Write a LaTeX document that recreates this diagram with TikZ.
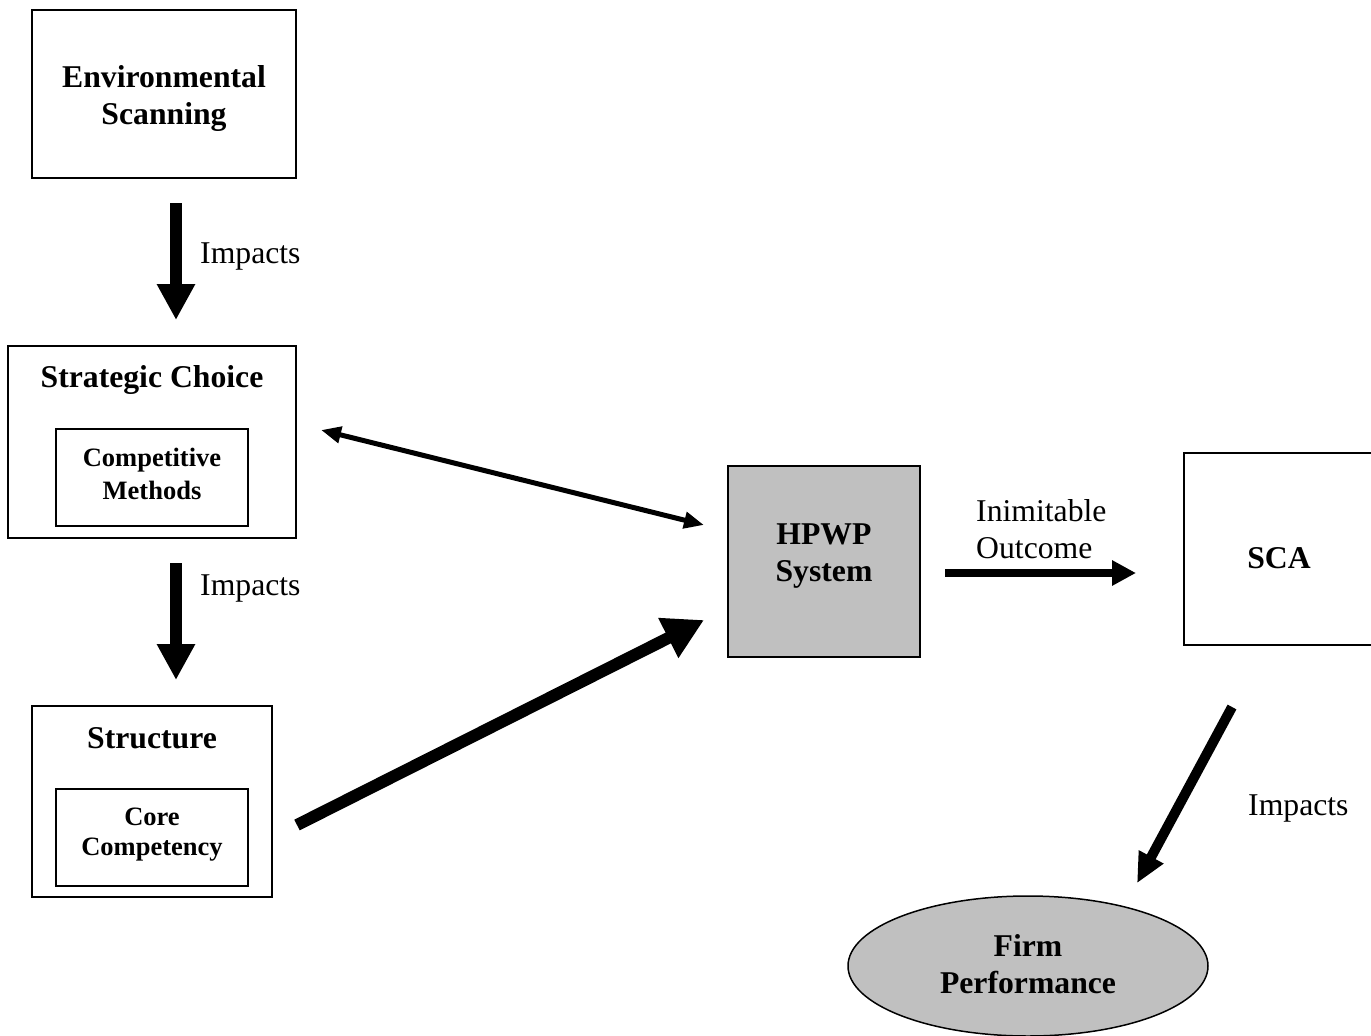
\documentclass[tikz,border=0pt]{standalone}
\usepackage{fontspec}
\setmainfont{Liberation Serif}
\usetikzlibrary{arrows.meta,shapes.geometric}
\tikzset{
  box/.style={draw, line width=2pt, inner sep=0pt, fill=white},
  bigfont/.style={font=\fontsize{31.7}{37}\selectfont\bfseries, align=center, inner sep=0pt},
  smallfont/.style={font=\fontsize{26.5}{33}\selectfont\bfseries, align=center, inner sep=0pt},
  lbl/.style={font=\fontsize{31.7}{37}\selectfont, align=left, inner sep=0pt, anchor=west},
  thickarrow/.style={line width=12pt, -{Triangle[width=36pt,length=36pt]}},
  structarrow/.style={line width=12pt, -{Triangle[width=42pt,length=40pt]}},
  dblarrow/.style={line width=5pt, {Triangle[width=16pt,length=20pt]}-{Triangle[width=16pt,length=20pt]}},
  medarrow/.style={line width=8pt, -{Triangle[width=24pt,length=24pt]}},
  diagarrow/.style={line width=10pt, -{Triangle[width=26pt,length=30pt]}},
}
\begin{document}
\begin{tikzpicture}[x=1pt,y=-1pt]
\useasboundingbox (0,0) rectangle (1371,1036);
\clip (0,0) rectangle (1371,1036);
\fill[white] (0,0) rectangle (1371,1036);
% Environmental Scanning
\node[box, minimum width=264pt, minimum height=168pt] (env) at (164,94) {};
\node[bigfont] (envt) at (164,98) {Environmental\\Scanning};
% Strategic Choice
\node[box, minimum width=288pt, minimum height=192pt] (strat) at (152,442) {};
\node[bigfont] (stratt) at (152,380) {Strategic Choice};
\node[box, minimum width=192pt, minimum height=97pt] (comp) at (152,477.5) {};
\node[smallfont] (compt) at (152,474) {Competitive\\Methods};
% Structure
\node[box, minimum width=240pt, minimum height=191pt] (struct) at (152,801.5) {};
\node[bigfont] (structt) at (152,738) {Structure};
\node[box, minimum width=192pt, minimum height=97pt] (core) at (152,837.5) {};
\node[smallfont, font=\fontsize{26.5}{30}\selectfont\bfseries] (coret) at (152,835) {Core\\Competency};
% HPWP
\node[box, fill={rgb,255:red,192;green,192;blue,192}, minimum width=192pt, minimum height=191pt] (hpwp) at (824,561.5) {};
\node[bigfont] (hpwpt) at (824,556) {HPWP\\System};
% SCA
\node[box, minimum width=192pt, minimum height=192pt] (sca) at (1280,549) {};
\node[bigfont] (scat) at (1279,558) {SCA};
% Firm Performance
\node[draw, line width=1.5pt, ellipse, fill={rgb,255:red,192;green,192;blue,192}, minimum width=360pt, minimum height=140pt, inner sep=0pt] (firm) at (1028,966) {};
\node[bigfont] (firmt) at (1028,964) {Firm\\Performance};
% Connectors
\draw[thickarrow] ([xshift=12pt,yshift=-24pt]env.south) -- ([xshift=24pt,yshift=25pt]strat.north);
\node[lbl] (l1) at (200,256) {Impacts};
\draw[thickarrow] ([xshift=24pt,yshift=-24pt]strat.south) -- ([xshift=24pt,yshift=25pt]struct.north);
\node[lbl] (l2) at (200,588) {Impacts};
\draw[dblarrow] ([xshift=24pt,yshift=12pt]strat.east) -- ([xshift=-23pt,yshift=36.5pt]hpwp.west);
\draw[structarrow] ([xshift=24pt,yshift=-23.5pt]struct.east) -- ([xshift=-23pt,yshift=-58.5pt]hpwp.west);
\draw[medarrow] ([xshift=24pt,yshift=-11.5pt]hpwp.east) -- ([xshift=-47pt,yshift=-24pt]sca.west);
\node[lbl] (l3) at (976,529) {Inimitable\\Outcome};
\draw[diagarrow] ([xshift=-48pt,yshift=-61pt]sca.south) -- ([xshift=109pt,yshift=12pt]firm.north);
\node[lbl] (l4) at (1248,808) {Impacts};
\end{tikzpicture}
\end{document}
